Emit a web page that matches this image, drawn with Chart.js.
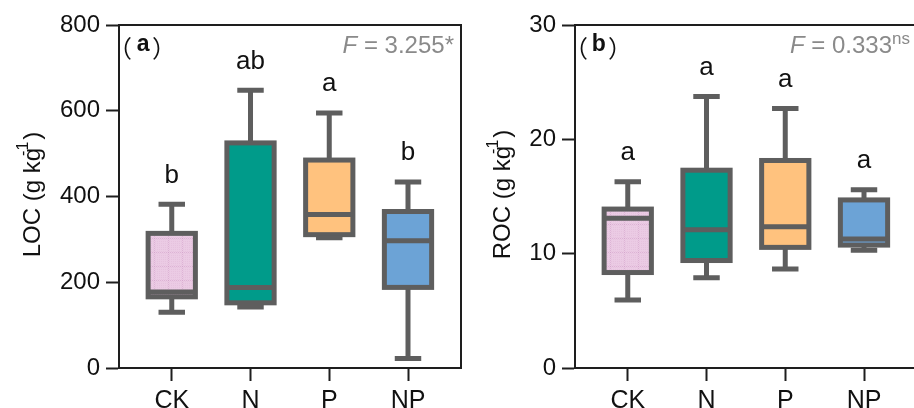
<!DOCTYPE html>
<html>
<head>
<meta charset="utf-8">
<script src="https://cdn.jsdelivr.net/npm/chart.js@4.4.1/dist/chart.umd.min.js"></script>
<style>
  html, body { margin: 0; padding: 0; background: #fff; overflow: hidden; width: 914px; height: 408px; }
  .panel { position: absolute; top: 0; width: 462px; height: 408px; }
</style>
</head>
<body>
<div class="panel" style="left:0"><canvas id="chartA" width="462" height="408"></canvas></div>
<div class="panel" style="left:456px"><canvas id="chartB" width="462" height="408"></canvas></div>
<script>
// categorías (tratamientos)
const categories = ['CK', 'N', 'P', 'NP'];

// (a) LOC, g kg-1
const locMin    = [130, 142, 304, 22];
const locQ1     = [166, 152, 311, 188];
const locMedian = [177, 188, 358, 297];
const locQ3     = [314, 525, 485, 365];
const locMax    = [382, 648, 595, 434];
const locLetters = ['b', 'ab', 'a', 'b'];
const locTicks = [0, 200, 400, 600, 800];

// (b) ROC, g kg-1
const rocMin    = [5.95, 7.9, 8.65, 10.3];
const rocQ1     = [8.35, 9.4, 10.55, 10.75];
const rocMedian = [13.1, 12.1, 12.35, 11.28];
const rocQ3     = [13.9, 17.3, 18.15, 14.7];
const rocMax    = [16.3, 23.75, 22.7, 15.6];
const rocLetters = ['a', 'a', 'a', 'a'];
const rocTicks = [0, 10, 20, 30];

const FONT = '"Liberation Sans", Arial, sans-serif';
const LINE = '#5e5e5e';
const AXIS = '#1e1e1e';

Chart.defaults.font.family = FONT;
Chart.defaults.color = '#111';

// relleno rosa con rejilla fina para CK
function pinkGrid() {
  const c = document.createElement('canvas');
  c.width = 14; c.height = 14;
  const g = c.getContext('2d');
  g.fillStyle = '#ebcbe4';
  g.fillRect(0, 0, 14, 14);
  g.fillStyle = 'rgba(205,150,195,0.45)';
  for (let i = 0; i < 14; i += 2) { g.fillRect(i, 0, 1, 1); g.fillRect(0, i, 1, 1); }
  g.fillStyle = 'rgba(225,185,215,0.5)';
  for (let x = 1; x < 14; x += 2) for (let y = 1; y < 14; y += 2) g.fillRect(x, y, 1, 1);
  return g.createPattern(c, 'repeat');
}

function boxPlugin(s) {
  return {
    id: 'boxPlot',
    beforeDatasetsDraw(chart) {
      const { ctx, scales: { y } } = chart;
      const bars = chart.getDatasetMeta(0).data;
      ctx.save();
      ctx.strokeStyle = LINE;
      ctx.lineWidth = 5;
      bars.forEach((bar, i) => {
        ctx.beginPath();
        ctx.moveTo(bar.x, y.getPixelForValue(s.max[i]));
        ctx.lineTo(bar.x, y.getPixelForValue(s.q3[i]));
        ctx.moveTo(bar.x, y.getPixelForValue(s.q1[i]));
        ctx.lineTo(bar.x, y.getPixelForValue(s.min[i]));
        ctx.stroke();
      });
      ctx.restore();
    },
    afterDatasetsDraw(chart) {
      const { ctx, scales: { y } } = chart;
      const bars = chart.getDatasetMeta(0).data;
      ctx.save();
      ctx.strokeStyle = LINE;
      ctx.lineWidth = 5;
      ctx.lineCap = 'butt';
      bars.forEach((bar, i) => {
        const w = bar.width;
        const top = y.getPixelForValue(s.q3[i]);
        const bot = y.getPixelForValue(s.q1[i]);
        const med = y.getPixelForValue(s.median[i]);
        const cap = w * 0.28;
        ctx.strokeRect(bar.x - w / 2, top, w, bot - top);
        ctx.beginPath();
        ctx.moveTo(bar.x - w / 2, med); ctx.lineTo(bar.x + w / 2, med);
        [s.max[i], s.min[i]].forEach(v => {
          const p = y.getPixelForValue(v);
          ctx.moveTo(bar.x - cap, p); ctx.lineTo(bar.x + cap, p);
        });
        ctx.stroke();
      });
      ctx.restore();
    },
    afterDraw(chart) {
      const { ctx, chartArea: area, scales: { y } } = chart;
      const bars = chart.getDatasetMeta(0).data;
      ctx.save();

      // marco superior y derecho
      ctx.strokeStyle = AXIS;
      ctx.lineWidth = 2;
      ctx.beginPath();
      ctx.moveTo(area.left, area.top); ctx.lineTo(area.right, area.top);
      ctx.lineTo(area.right, area.bottom);
      ctx.stroke();

      // letras de significancia
      ctx.fillStyle = '#111';
      ctx.font = '26px ' + FONT;
      ctx.textAlign = 'center';
      ctx.textBaseline = 'alphabetic';
      bars.forEach((bar, i) => {
        ctx.fillText(s.letters[i], bar.x, y.getPixelForValue(s.max[i]) - 21.5);
      });

      // (a) / (b)
      ctx.textAlign = 'left';
      ctx.font = '24px "Noto Sans CJK SC"';
      const po = ctx.measureText('\uFF08');
      ctx.fillText('\uFF08', area.left + 12 - po.actualBoundingBoxRight, area.top + 11.7 + po.actualBoundingBoxAscent);
      ctx.font = 'bold 23px ' + FONT;
      const lm = ctx.measureText(s.panel);
      const lx = area.left + 17.7 + lm.actualBoundingBoxLeft;
      ctx.fillText(s.panel, lx, area.top + 26);
      const inkRight = lx + lm.actualBoundingBoxRight;
      ctx.font = '24px "Noto Sans CJK SC"';
      const pc = ctx.measureText('\uFF09');
      ctx.fillText('\uFF09', inkRight + 3.3 + pc.actualBoundingBoxLeft, area.top + 11.7 + pc.actualBoundingBoxAscent);

      // estadístico F
      ctx.fillStyle = '#8a8a8a';
      const parts = [
        { t: 'F', f: 'italic 24px ' + FONT, dy: 0 },
        { t: ' = ' + s.fValue, f: '24px ' + FONT, dy: 0 }
      ];
      if (s.fSup) parts.push({ t: s.fSup, f: '17px ' + FONT, dy: -9 });
      let x = area.right - 7;
      for (let k = parts.length - 1; k >= 0; k--) {
        ctx.font = parts[k].f;
        x -= ctx.measureText(parts[k].t).width;
      }
      parts.forEach(p => {
        ctx.font = p.f;
        ctx.fillText(p.t, x, area.top + 27.5 + p.dy);
        x += ctx.measureText(p.t).width;
      });

      // título del eje y con superíndice
      ctx.fillStyle = '#111';
      ctx.font = '24px ' + FONT;
      const widest = Math.max(...y.ticks.map(t => ctx.measureText(String(t.label)).width));
      const baseX = area.left - 13 - 6 - widest - 19.5;
      const main = s.name + ' (g kg';
      ctx.font = '24px ' + FONT;
      const wMain = ctx.measureText(main).width;
      const wG = ctx.measureText('g').width;
      const wClose = ctx.measureText(')').width;
      ctx.font = '16px ' + FONT;
      const wSup = ctx.measureText('-1').width;
      const supStart = wMain - wG * 0.6;
      const total = supStart + wSup + 2 + wClose;
      ctx.translate(baseX, (area.top + area.bottom) / 2 - 2);
      ctx.rotate(-Math.PI / 2);
      const x0 = -total / 2;
      ctx.font = '24px ' + FONT;
      ctx.fillText(main, x0, 0);
      ctx.fillText(')', x0 + supStart + wSup + 2, 0);
      ctx.font = '16px ' + FONT;
      ctx.fillText('-1', x0 + supStart, -12);
      ctx.restore();
    }
  };
}

function makePanel(id, s) {
  const fills = [pinkGrid(), '#009b8a', '#ffc27e', '#6ca3d6'];
  return new Chart(document.getElementById(id), {
    type: 'bar',
    data: {
      datasets: [{
        data: categories.map((c, i) => ({ x: i, y: [s.q1[i], s.q3[i]] })),
        backgroundColor: fills,
        borderWidth: 0,
        barPercentage: 0.6,
        categoryPercentage: 1
      }]
    },
    options: {
      responsive: false,
      animation: false,
      layout: { padding: { left: 0, right: 1, top: 25, bottom: 0 } },
      plugins: { legend: { display: false }, tooltip: { enabled: false } },
      scales: {
        x: {
          type: 'linear',
          min: -0.67,
          max: 3.673,
          offset: false,
          afterBuildTicks: scale => { scale.ticks = categories.map((c, i) => ({ value: i })); },
          afterFit: scale => { scale.height = 40; },
          ticks: { callback: v => categories[v], font: { size: 25 }, color: '#111', padding: 5, maxRotation: 0, autoSkip: false },
          grid: { display: true, offset: false, drawOnChartArea: false, drawTicks: true, tickLength: 13, tickWidth: 2, tickColor: AXIS },
          border: { display: true, color: AXIS, width: 2 }
        },
        y: {
          min: s.ticks[0],
          max: s.ticks[s.ticks.length - 1],
          afterBuildTicks: scale => { scale.ticks = s.ticks.map(v => ({ value: v })); },
          afterFit: scale => { scale.width = 119; },
          ticks: { font: { size: 24 }, color: '#111', padding: 6 },
          grid: { display: true, drawOnChartArea: false, drawTicks: true, tickLength: 13, tickWidth: 2, tickColor: AXIS },
          border: { display: true, color: AXIS, width: 2 }
        }
      }
    },
    plugins: [boxPlugin(s)]
  });
}

makePanel('chartA', {
  name: 'LOC', panel: 'a', fValue: '3.255*', fSup: '',
  min: locMin, q1: locQ1, median: locMedian, q3: locQ3, max: locMax,
  letters: locLetters, ticks: locTicks
});

makePanel('chartB', {
  name: 'ROC', panel: 'b', fValue: '0.333', fSup: 'ns',
  min: rocMin, q1: rocQ1, median: rocMedian, q3: rocQ3, max: rocMax,
  letters: rocLetters, ticks: rocTicks
});
</script>
</body>
</html>
